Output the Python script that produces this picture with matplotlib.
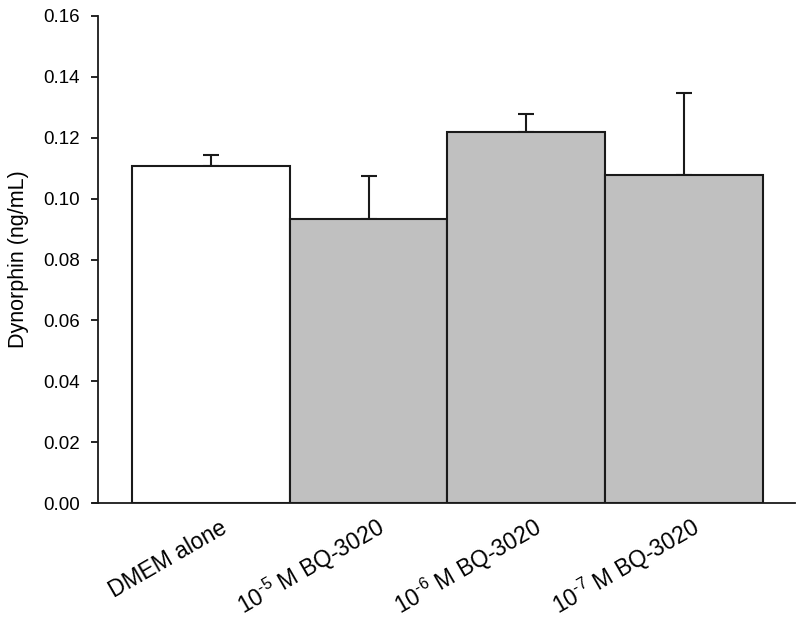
import matplotlib
matplotlib.use("Agg")
import matplotlib.pyplot as plt
import matplotlib.transforms as mtransforms

plt.rcParams['font.family'] = ['Liberation Sans', 'DejaVu Sans']
plt.rcParams['mathtext.fontset'] = 'custom'
plt.rcParams['mathtext.rm'] = 'Liberation Sans'
plt.rcParams['mathtext.it'] = 'Liberation Sans:italic'
plt.rcParams['mathtext.bf'] = 'Liberation Sans:bold'

categories = ["DMEM alone", r"10$^{\text{-}5}$ M BQ-3020", r"10$^{\text{-}6}$ M BQ-3020", r"10$^{\text{-}7}$ M BQ-3020"]
values = [0.1108, 0.0934, 0.1218, 0.1079]
errors = [0.0036, 0.0140, 0.0060, 0.0267]
colors = ["white", "#c0c0c0", "#c0c0c0", "#c0c0c0"]
yticks = [0.00, 0.02, 0.04, 0.06, 0.08, 0.10, 0.12, 0.14, 0.16]

fig = plt.figure(figsize=(8, 6.24), dpi=100)
ax = fig.add_axes([98/800, 1-503/624, 697/800, 487/624])

x = list(range(len(values)))
ax.bar(x, values, width=1.0, color=colors, edgecolor="#1a1a1a", linewidth=1.5, zorder=2)
ax.errorbar(x, values, yerr=[[0]*len(errors), errors], fmt='none', ecolor="#1a1a1a",
            elinewidth=1.5, capsize=5.5, capthick=1.5, zorder=1)

ax.set_xlim(-0.716, 3.705)
ax.set_ylim(0, 0.16)
ax.set_yticks(yticks)
ax.set_yticklabels([f"{t:.2f}" for t in yticks])
ax.set_xticks([])
ax.tick_params(axis='y', direction='out', length=5, width=1.2, pad=8, labelsize=13.5, colors='black')
for s in ['top', 'right']:
    ax.spines[s].set_visible(False)
for s in ['left', 'bottom']:
    ax.spines[s].set_linewidth(1.3)
    ax.spines[s].set_color('#1a1a1a')
ax.plot([-5/697, 0], [0, 0], transform=ax.transAxes, color='#1a1a1a', lw=1.3, clip_on=False)

ax.set_ylabel("Dynorphin (ng/mL)", fontsize=15.5, labelpad=10)

trans = mtransforms.blended_transform_factory(ax.transData, ax.transAxes)
for xi, lab in zip(x, categories):
    ax.text(xi + 0.11, -29/487, lab, transform=trans, rotation=30, rotation_mode='anchor',
            ha='right', va='baseline', fontsize=16.5)

fig.savefig("out.png", dpi=100)
